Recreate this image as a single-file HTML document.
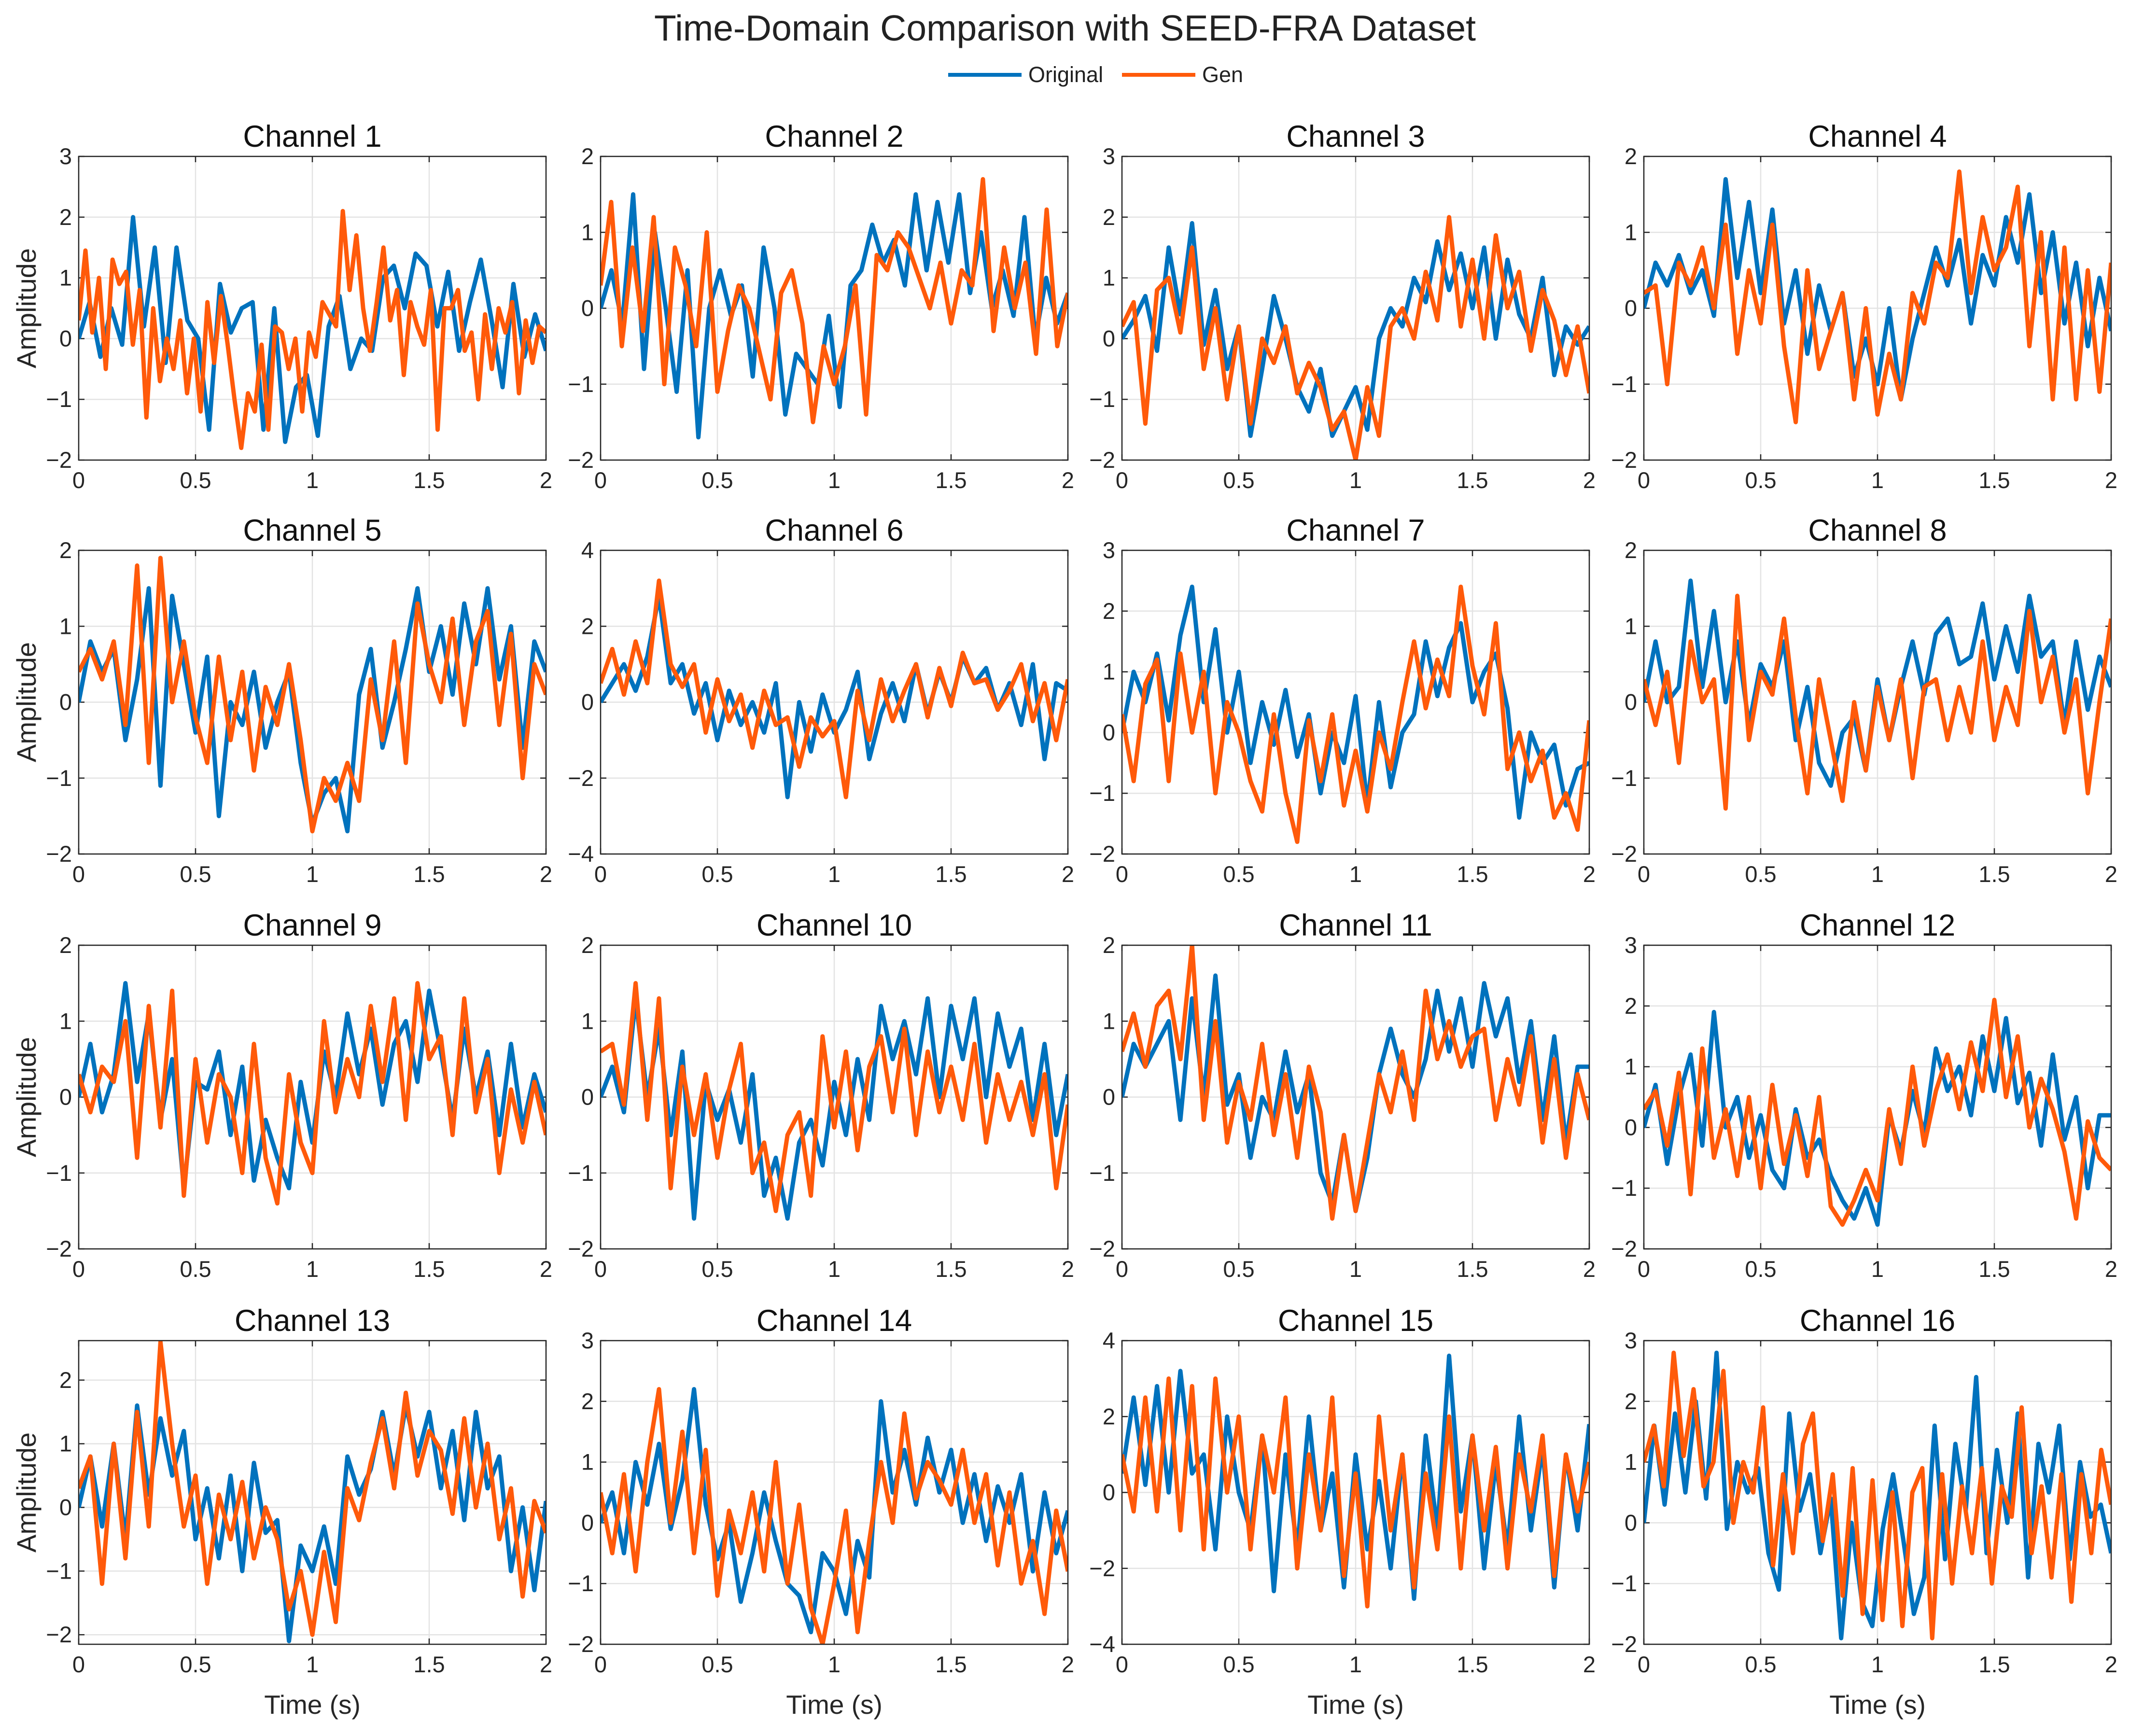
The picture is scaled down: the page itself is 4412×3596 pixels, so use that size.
<!DOCTYPE html>
<html><head><meta charset="utf-8"><style>
html,body{margin:0;padding:0;background:#fff;}
svg{display:block;font-family:"Liberation Sans",Arial,sans-serif;}
</style></head><body>
<svg id="fig" width="4412" height="3596" viewBox="0 0 4412 3596" xmlns="http://www.w3.org/2000/svg">
<rect width="4412" height="3596" fill="#fff"/>
<text x="2206" y="84" font-size="75" text-anchor="middle" fill="#222">Time-Domain Comparison with SEED-FRA Dataset</text>
<g>
<line x1="1964" y1="155" x2="2116" y2="155" stroke="#0072BD" stroke-width="8"/>
<text x="2130" y="170" font-size="45" fill="#222">Original</text>
<line x1="2324" y1="155" x2="2476" y2="155" stroke="#FF5A0A" stroke-width="8"/>
<text x="2490" y="170" font-size="45" fill="#222">Gen</text>
</g>
</svg>
<script>
const yRanges=[[-2,3],[-2,2],[-2,3],[-2,2],[-2,2],[-4,4],[-2,3],[-2,2],[-2,2],[-2,2],[-2,2],[-2,3],[-2.15,2.62],[-2,3],[-4,4],[-2,3]];
const yTickStep=[1,1,1,1,1,2,1,1,1,1,1,1,1,1,2,1];
const xTicks=[0,0.5,1,1.5,2];
const xTickLabels=["0","0.5","1","1.5","2"];
const original=[
[0,0.6,-0.3,0.5,-0.1,2.0,0.2,1.5,-0.4,1.5,0.3,0,-1.5,0.9,0.1,0.5,0.6,-1.5,0.5,-1.7,-0.8,-0.6,-1.6,0.2,0.7,-0.5,0.0,-0.2,1.0,1.2,0.5,1.4,1.2,0.2,1.1,-0.2,0.6,1.3,0.3,-0.8,0.9,-0.3,0.4,-0.2],
[0,0.5,-0.2,1.5,-0.8,1.0,0.0,-1.1,0.5,-1.7,0.0,0.5,-0.1,0.3,-0.9,0.8,0.0,-1.4,-0.6,-0.8,-1.0,-0.1,-1.3,0.3,0.5,1.1,0.6,0.9,0.3,1.5,0.5,1.4,0.6,1.5,0.2,1.0,0.0,0.5,-0.1,1.2,-0.4,0.4,-0.2,0.2],
[0,0.3,0.7,-0.2,1.5,0.4,1.9,-0.1,0.8,-0.5,0.2,-1.6,-0.5,0.7,0.0,-0.8,-1.2,-0.5,-1.6,-1.2,-0.8,-1.5,0.0,0.5,0.2,1.0,0.6,1.6,0.8,1.4,0.5,1.5,0.0,1.3,0.4,0.0,1.0,-0.6,0.2,-0.1,0.2],
[0,0.6,0.3,0.7,0.2,0.5,-0.1,1.7,0.4,1.4,0.2,1.3,-0.2,0.5,-0.6,0.3,-0.3,0.2,-0.9,-0.4,-1.0,0.0,-1.2,-0.4,0.2,0.8,0.3,0.9,-0.2,0.7,0.3,1.2,0.6,1.5,0.2,1.0,-0.2,0.6,-0.5,0.4,-0.3],
[0,0.8,0.4,0.7,-0.5,0.3,1.5,-1.1,1.4,0.5,-0.4,0.6,-1.5,0.0,-0.3,0.4,-0.6,0.0,0.4,-0.8,-1.6,-1.2,-1.0,-1.7,0.1,0.7,-0.6,0.0,0.7,1.5,0.4,1.0,0.1,1.3,0.5,1.5,0.3,1.0,-0.6,0.8,0.4],
[0,0.5,1.0,0.3,1.2,2.8,0.5,1.0,-0.3,0.5,-1.0,0.3,-0.6,0.0,-0.8,0.5,-2.5,0.0,-1.3,0.2,-0.8,-0.2,0.8,-1.5,-0.3,0.5,-0.5,1.0,-0.3,0.8,0.0,1.2,0.5,0.9,-0.2,0.5,-0.6,1.0,-1.5,0.5,0.3],
[0,1.0,0.5,1.3,0.2,1.6,2.4,0.5,1.7,0.0,1.0,-0.5,0.5,-0.2,0.7,-0.4,0.3,-1.0,0.0,-0.5,0.6,-1.2,0.5,-0.9,0.0,0.3,1.5,0.6,1.4,1.8,0.5,1.0,1.3,0.4,-1.4,0.0,-0.5,-0.2,-1.2,-0.6,-0.5],
[0,0.8,0.0,0.2,1.6,0.2,1.2,0.0,0.8,-0.3,0.5,0.2,0.8,-0.5,0.2,-0.8,-1.1,-0.4,-0.2,-0.9,0.3,-0.5,0.2,0.8,0.1,0.9,1.1,0.5,0.6,1.3,0.3,1.0,0.4,1.4,0.6,0.8,-0.3,0.8,-0.1,0.6,0.2],
[0,0.7,-0.2,0.3,1.5,0.2,1.1,-0.3,0.5,-1.2,0.2,0.1,0.6,-0.5,0.4,-1.1,-0.3,-0.8,-1.2,0.2,-0.6,0.6,0.0,1.1,0.3,0.9,-0.1,0.7,1.0,0.2,1.4,0.6,-0.3,0.9,0.0,0.6,-0.5,0.7,-0.4,0.3,-0.2],
[0,0.4,-0.2,1.3,0.0,0.9,-0.5,0.6,-1.6,0.2,-0.3,0.1,-0.6,0.3,-1.3,-0.8,-1.6,-0.6,-0.3,-0.9,0.2,-0.5,0.5,-0.3,1.2,0.5,1.0,0.3,1.3,0.0,1.2,0.5,1.3,0.0,1.1,0.4,0.9,-0.3,0.7,-0.5,0.3],
[0,0.7,0.4,0.7,1.0,-0.3,1.3,0.0,1.6,-0.1,0.3,-0.8,0.0,-0.3,0.6,-0.2,0.3,-1.0,-1.4,-0.5,-1.5,-0.8,0.3,0.9,0.3,0.0,0.5,1.4,0.6,1.3,0.4,1.5,0.8,1.3,0.2,1.0,-0.3,0.8,-0.6,0.4,0.4],
[0,0.7,-0.6,0.5,1.2,-0.3,1.9,0.0,0.5,-0.5,0.2,-0.7,-1.0,0.3,-0.5,-0.2,-0.8,-1.2,-1.5,-1.0,-1.6,0.2,-0.4,0.6,-0.1,1.3,0.6,1.0,0.2,1.5,0.6,1.8,0.4,0.9,-0.3,1.2,-0.2,0.5,-1.0,0.2,0.2],
[0,0.8,-0.3,1.0,-0.5,1.6,0.2,1.4,0.5,1.2,-0.5,0.3,-0.8,0.5,-1.0,0.7,-0.4,-0.2,-2.1,-0.6,-1.0,-0.3,-1.2,0.8,0.2,0.6,1.5,0.5,1.6,0.8,1.5,0.3,1.2,-0.2,1.5,0.3,0.8,-1.0,0.0,-1.3,0.1],
[0,0.5,-0.5,1.0,0.3,1.3,-0.1,0.7,2.2,0.3,-0.6,0.0,-1.3,-0.5,0.5,-0.3,-1.0,-1.2,-1.8,-0.5,-0.8,-1.5,-0.3,-0.9,2.0,0.5,1.2,0.3,1.4,0.5,1.2,0.0,0.8,-0.3,0.6,0.0,0.8,-0.8,0.5,-0.5,0.2],
[0.5,2.5,0.2,2.8,0.0,3.2,0.5,1.0,-1.5,2.0,0.0,-1.0,1.5,-2.6,1.0,-1.5,2.0,-1.0,0.5,-2.5,1.0,-1.5,0.3,-2.0,1.0,-2.8,1.5,-1.0,3.6,-0.5,1.5,-2.0,0.8,-1.5,2.0,-1.0,1.2,-2.5,1.0,-1.0,1.8],
[0,1.6,0.3,1.8,0.5,2.0,0.4,2.8,-0.1,1.0,0.5,0.9,-0.5,-1.1,1.8,0.2,0.8,-0.5,0.4,-1.9,0.0,-1.3,-1.7,-0.1,0.8,-0.3,-1.5,-0.9,1.6,-0.6,1.3,0.2,2.4,-0.5,1.2,0.0,1.8,-0.9,1.3,0.5,1.6,-0.6,1.0,0.1,0.3,-0.5]
];
const generated=[
[0.3,1.45,0.1,1.0,-0.5,1.3,0.9,1.1,-0.1,0.8,-1.3,0.5,-0.7,0,-0.5,0.3,-0.9,0.0,-1.2,0.6,-0.4,0.7,-0.1,-1.0,-1.8,-0.9,-1.2,-0.1,-1.5,0.2,0.1,-0.5,0.0,-1.2,0.1,-0.3,0.6,0.4,0.2,2.1,0.8,1.7,0.5,-0.2,0.6,1.5,0.3,0.8,-0.6,0.6,0.2,-0.1,0.8,-1.5,0.5,0.5,0.8,-0.2,0.1,-1.0,0.4,-0.5,0.5,0.1,0.6,-0.9,0.3,-0.4,0.2,0.1],
[0.3,1.4,-0.5,0.8,-0.3,1.2,-1.0,0.8,0.3,-0.5,1.0,-1.1,-0.3,0.3,0.0,-0.6,-1.2,0.2,0.5,-0.2,-1.5,-0.5,-1.0,-0.5,0.3,-1.4,0.7,0.5,1.0,0.8,0.4,0.0,0.6,-0.2,0.5,0.3,1.7,-0.3,0.8,0.0,0.6,-0.6,1.3,-0.5,0.2],
[0.2,0.6,-1.4,0.8,1.0,0.1,1.5,-0.5,0.5,-1.0,0.2,-1.4,0.0,-0.4,0.2,-0.9,-0.4,-0.8,-1.5,-1.2,-2.0,-0.8,-1.6,0.2,0.5,0.0,1.1,0.3,2.0,0.2,1.3,0.0,1.7,0.5,1.1,-0.2,0.8,0.3,-0.6,0.2,-0.9],
[0.2,0.3,-1.0,0.6,0.3,0.8,0.0,1.1,-0.6,0.5,-0.2,1.1,-0.5,-1.5,0.5,-0.8,-0.3,0.2,-1.2,0.0,-1.4,-0.6,-1.2,0.2,-0.2,0.6,0.4,1.8,0.2,1.2,0.5,0.8,1.6,-0.5,1.0,-1.2,0.8,-1.2,0.5,-1.1,0.6],
[0.4,0.7,0.3,0.8,-0.3,1.8,-0.8,1.9,0.0,0.8,-0.2,-0.8,0.6,-0.5,0.4,-0.9,0.2,-0.3,0.5,-0.5,-1.7,-1.0,-1.3,-0.8,-1.3,0.3,-0.5,0.8,-0.8,1.3,0.5,0.0,1.1,-0.3,0.8,1.2,-0.3,0.9,-1.0,0.5,0.1],
[0.5,1.4,0.2,1.6,0.5,3.2,1.0,0.4,1.0,-0.8,0.6,-0.5,0.2,-1.2,0.3,-0.6,-0.4,-1.7,-0.4,-0.9,-0.5,-2.5,0.3,-1.0,0.6,-0.5,0.3,1.0,-0.4,0.9,-0.1,1.3,0.5,0.6,-0.2,0.3,1.0,-0.5,0.5,-1.0,0.6],
[0.3,-0.8,0.8,1.2,-0.8,1.3,0.0,1.0,-1.0,0.5,0.0,-0.8,-1.3,0.3,-1.0,-1.8,0.2,-0.8,0.3,-1.2,-0.3,-1.3,0.0,-0.6,0.5,1.5,0.4,1.2,0.6,2.4,1.1,0.3,1.8,-0.6,0.0,-0.8,-0.3,-1.4,-1.0,-1.6,0.2],
[0.3,-0.3,0.4,-0.8,0.8,0.0,0.3,-1.4,1.4,-0.5,0.4,0.1,1.1,-0.2,-1.2,0.3,-0.5,-1.3,0.0,-0.9,0.2,-0.5,0.3,-1.0,0.2,0.3,-0.5,0.2,-0.4,0.8,-0.5,0.2,-0.3,1.2,0.0,0.6,-0.4,0.3,-1.2,0.0,1.1],
[0.3,-0.2,0.4,0.2,1.0,-0.8,1.2,-0.4,1.4,-1.3,0.5,-0.6,0.3,0.0,-1.0,0.7,-0.8,-1.4,0.3,-0.6,-1.0,1.0,-0.2,0.5,0.0,1.2,0.2,1.3,-0.3,1.5,0.5,0.8,-0.5,1.3,-0.2,0.5,-1.0,0.1,-0.6,0.2,-0.5],
[0.6,0.7,-0.1,1.5,-0.3,1.3,-1.2,0.4,-0.5,0.3,-0.8,0.1,0.7,-1.0,-0.6,-1.5,-0.5,-0.2,-1.3,0.8,-0.4,0.6,-0.7,0.4,0.8,-0.2,0.9,-0.5,0.6,-0.2,0.4,-0.3,0.7,-0.6,0.3,-0.3,0.2,-0.5,0.3,-1.2,-0.1],
[0.6,1.1,0.4,1.2,1.4,0.5,2.0,-0.3,1.0,-0.6,0.2,-0.3,0.7,-0.5,0.3,-0.8,0.4,-0.2,-1.6,-0.5,-1.5,-0.6,0.3,-0.2,0.6,-0.3,1.4,0.5,1.0,0.4,0.8,0.9,-0.3,0.5,-0.1,0.8,-0.6,0.5,-0.8,0.3,-0.3],
[0.3,0.6,-0.3,0.9,-1.1,1.3,-0.5,0.3,-0.8,0.5,-1.0,0.7,-0.6,0.2,-0.8,0.5,-1.3,-1.6,-1.2,-0.7,-1.2,0.3,-0.6,1.0,-0.3,0.6,1.2,0.3,1.4,0.6,2.1,0.5,1.5,0.0,0.8,0.3,-0.4,-1.5,0.1,-0.5,-0.7],
[0.3,0.8,-1.2,1.0,-0.8,1.5,-0.3,2.6,1.0,-0.3,0.5,-1.2,0.2,-0.5,0.4,-0.8,0.0,-0.5,-1.6,-1.0,-2.0,-0.7,-1.8,0.3,-0.2,0.7,1.4,0.3,1.8,0.5,1.2,0.9,-0.1,1.4,0.0,1.0,-0.5,0.3,-1.4,0.1,-0.4],
[0.5,-0.5,0.8,-0.8,1.0,2.2,0.0,1.5,-0.5,1.2,-1.2,0.2,-0.5,0.5,-0.8,1.0,-1.0,0.3,-1.4,-2.0,-1.0,0.2,-1.8,-0.3,1.0,0.0,1.8,0.4,1.0,0.7,0.3,1.2,0.0,0.8,-0.7,0.5,-1.0,-0.3,-1.5,0.2,-0.8],
[1.0,-0.5,2.5,-0.5,3.0,-1.0,2.8,-1.5,3.0,0.0,2.0,-1.5,1.5,0.0,2.5,-2.0,1.0,-1.0,2.5,-2.2,0.5,-3.0,2.0,-1.0,1.0,-2.5,0.5,-1.5,2.0,-2.0,1.5,-1.0,1.2,-2.0,1.0,-0.5,1.5,-2.2,1.0,-0.5,0.8],
[1.0,1.6,0.6,2.8,1.1,2.2,0.6,1.0,2.5,0.0,1.0,0.5,1.9,-0.7,0.8,-0.5,1.3,1.8,-0.3,0.8,-1.2,0.9,-1.5,0.7,-1.6,0.5,-1.7,0.5,0.9,-1.9,0.8,-1.0,0.6,-0.5,0.9,-1.0,0.6,0.1,1.9,-0.5,0.6,-0.9,0.8,-1.3,0.8,-0.5,1.2,0.3]
];
const NS='http://www.w3.org/2000/svg';
const svg=document.getElementById('fig');
const colLeft=[163,1244,2324,3405], rowTop=[324,1140,1958,2777], W=968, H=629;
function mk(tag,attrs,parent){const e=document.createElementNS(NS,tag);for(const k in attrs)e.setAttribute(k,attrs[k]);parent.appendChild(e);return e;}
function fmt(v){return v<0?'\u2212'+Math.abs(v):String(v);}
for(let p=0;p<16;p++){
  const r=Math.floor(p/4),c=p%4,L=colLeft[c],T=rowTop[r];
  const [y0,y1]=yRanges[p];
  const xs=t=>L+t/2*W, ys=v=>T+H-(v-y0)/(y1-y0)*H;
  const g=mk('g',{},svg);
  
  
  mk('rect',{x:L,y:T,width:W,height:H,fill:'#fff'},g);
  const grid=mk('g',{stroke:'#e3e3e3','stroke-width':2.5},g);
  
  
  xTicks.forEach((t,i)=>{
    mk('line',{x1:xs(t),x2:xs(t),y1:T,y2:T+H},grid);
    mk('line',{x1:xs(t),x2:xs(t),y1:T+H,y2:T+H-12,stroke:'#262626','stroke-width':2.5},g);
    mk('line',{x1:xs(t),x2:xs(t),y1:T,y2:T+12,stroke:'#262626','stroke-width':2.5},g);
    const tx=mk('text',{x:xs(t),y:T+H+58,'font-size':47,'text-anchor':'middle',fill:'#262626'},g);
    
    
    tx.textContent=xTickLabels[i];
  });
  const st=yTickStep[p];
  for(let v=Math.ceil(y0/st-1e-9)*st;v<=y1+1e-9;v+=st){
    mk('line',{x1:L,x2:L+W,y1:ys(v),y2:ys(v)},grid);
    mk('line',{x1:L,x2:L+12,y1:ys(v),y2:ys(v),stroke:'#262626','stroke-width':2.5},g);
    mk('line',{x1:L+W,x2:L+W-12,y1:ys(v),y2:ys(v),stroke:'#262626','stroke-width':2.5},g);
    const ty=mk('text',{x:L-14,y:ys(v)+16,'font-size':47,'text-anchor':'end',fill:'#262626'},g);
    
    
    ty.textContent=fmt(v);
  }
  const clipId='clip'+p;
  const cp=mk('clipPath',{id:clipId},g);mk('rect',{x:L,y:T,width:W,height:H},cp);
  [[original[p],'#0072BD','original-line'],[generated[p],'#FF5A0A','gen-line']].forEach(([d,col,nm])=>{
    const n=d.length;
    const pts=d.map((v,i)=>xs(2*i/(n-1)).toFixed(1)+','+ys(v).toFixed(1)).join(' ');
    const pl=mk('polyline',{points:pts,fill:'none',stroke:col,'stroke-width':9,'stroke-linejoin':'round','clip-path':'url(#'+clipId+')'},g);
    
    
  });
  mk('rect',{x:L,y:T,width:W,height:H,fill:'none',stroke:'#262626','stroke-width':2.5},g);
  const tt=mk('text',{x:L+W/2,y:T-20,'font-size':63,'text-anchor':'middle',fill:'#111'},g);
  
  
  tt.textContent='Channel '+(p+1);
  if(c===0){
    const yl=mk('text',{x:0,y:0,'font-size':56,'text-anchor':'middle',fill:'#262626',transform:'translate(74,'+(T+H/2)+') rotate(-90)'},g);
    
    
    yl.textContent='Amplitude';
  }
  if(r===3){
    const xl=mk('text',{x:L+W/2,y:3550,'font-size':55,'text-anchor':'middle',fill:'#262626'},g);
    
    
    xl.textContent='Time (s)';
  }
}
</script>
</body></html>
